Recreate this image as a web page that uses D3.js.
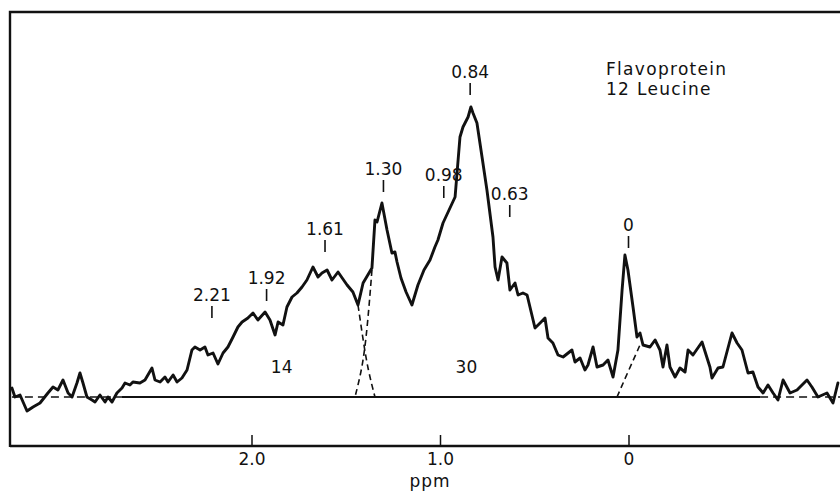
<!DOCTYPE html>
<html>
<head>
<meta charset="utf-8">
<script src="https://cdn.jsdelivr.net/npm/d3@7"></script>
<style>
  html, body { margin: 0; padding: 0; background: #fff; }
  svg { display: block; }
  text { font-family: "DejaVu Sans", sans-serif; fill: #111; }
</style>
</head>
<body>
<svg id="chart" width="840" height="495"></svg>
<script>
// 1H NMR spectrum of a flavoprotein labelled with 12 leucine residues

// chemical shift (ppm) and signal intensity (arbitrary units) of the trace
const spectrumPpm = [
  3.271, 3.255, 3.228, 3.191, 3.159, 3.122, 3.080, 3.053, 3.027, 3.000,
  2.973, 2.952, 2.926, 2.910, 2.894, 2.873, 2.846, 2.830, 2.804, 2.777,
  2.761, 2.740, 2.714, 2.687, 2.671, 2.645, 2.629, 2.592, 2.565, 2.528,
  2.512, 2.485, 2.459, 2.443, 2.416, 2.395, 2.369, 2.342, 2.316, 2.300,
  2.273, 2.247, 2.231, 2.204, 2.178, 2.151, 2.125, 2.098, 2.072, 2.050,
  2.019, 1.992, 1.966, 1.928, 1.902, 1.875, 1.859, 1.833, 1.812, 1.785,
  1.759, 1.732, 1.706, 1.674, 1.647, 1.626, 1.599, 1.573, 1.541, 1.493,
  1.462, 1.435, 1.408, 1.361, 1.345, 1.334, 1.308, 1.281, 1.255, 1.239,
  1.228, 1.207, 1.180, 1.149, 1.117, 1.085, 1.053, 1.027, 1.011, 0.984,
  0.920, 0.894, 0.878, 0.851, 0.836, 0.825, 0.804, 0.777, 0.751, 0.719,
  0.708, 0.692, 0.671, 0.645, 0.629, 0.602, 0.586, 0.560, 0.538, 0.496,
  0.469, 0.443, 0.427, 0.401, 0.374, 0.347, 0.300, 0.284, 0.257, 0.231,
  0.215, 0.188, 0.167, 0.135, 0.109, 0.082, 0.056, 0.034, 0.019, 0.003,
  -0.024, -0.045, -0.061, -0.077, -0.114, -0.141, -0.167, -0.183, -0.204, -0.220,
  -0.247, -0.273, -0.300, -0.316, -0.342, -0.390, -0.432, -0.443, -0.475, -0.501,
  -0.549, -0.576, -0.602, -0.634, -0.660, -0.687, -0.714, -0.740, -0.767, -0.793,
  -0.820, -0.857, -0.894, -0.947, -0.973, -1.005, -1.053, -1.085, -1.111
];
const spectrumIntensity = [
  4.5, 0, 1, -7, -5, -3, 2, 5, 3.5, 8.5,
  2, 0, 7, 12, 7, 0, -1.5, -2.5, 1, -2.5,
  0, -2.5, 2, 4.5, 7, 6, 7.5, 7, 8.5, 14.5,
  8.5, 7.5, 10, 7.5, 11, 7.5, 9.5, 13.5, 23.5, 25,
  23.5, 25, 21, 22, 16.5, 22, 25, 30, 35, 37.5,
  39.5, 42, 38.5, 42.5, 38.5, 31, 37.5, 36, 45, 50,
  52, 55, 58.5, 65, 60, 62, 63.5, 58.5, 62.5, 56,
  52.5, 46, 57, 64.5, 88.5, 87.5, 97, 83.5, 72, 72.5,
  67.5, 59.5, 52.5, 46, 56, 63.5, 68.5, 75, 78.5, 87,
  100, 130, 135, 140, 145, 142, 137, 120, 103.5, 80,
  65, 58.5, 70, 67, 53.5, 57, 51, 52, 51, 34.5,
  37, 39.5, 29.5, 27, 21, 20, 23.5, 17.5, 19.5, 13.5,
  16, 25, 15, 16, 18.5, 10, 23.5, 53.5, 71, 63.5,
  45, 30, 32, 26, 25, 28.5, 23.5, 15, 26, 15,
  10, 14.5, 12.5, 23.5, 21, 27.5, 15, 9.5, 14.5, 15,
  32, 27, 23.5, 12, 12.5, 5, 2, 6, 2, -1.5,
  8.5, 2, 3.5, 8.5, 5, 0, 2, -3, 7
];

// dashed outlines separating the overlapping components
const broadTailPpm = [1.435, 1.408, 1.382, 1.345];
const broadTailIntensity = [46, 28.5, 13.5, 0];
const methylEdgePpm = [1.361, 1.382, 1.408, 1.451];
const methylEdgeIntensity = [63.5, 38.5, 16, 0];
const referenceEdgePpm = [0.061, 0.003, -0.061];
const referenceEdgeIntensity = [0, 12.5, 26];

// baseline: solid over the integrated range, dashed beyond it
const baselineSolid = [2.687, -0.698];
const baselineDashed = [[3.271, 2.687], [-0.698, -1.13]];

// peak assignments (ppm) and the level of each marker's lower end
const peakLabels = ["2.21", "1.92", "1.61", "1.30", "0.98", "0.84", "0.63", "0"];
const peakPpm = [2.21, 1.92, 1.61, 1.30, 0.98, 0.84, 0.63, 0];
const markerLevel = [39.5, 48, 72.5, 102.5, 99.5, 151, 90, 74.5];

// integrated proton counts for the two regions
const areaLabels = ["14", "30"];
const areaPpm = [1.84, 0.86];
const areaLevel = [12, 12];

// axis ticks
const axisTicks = [2.0, 1.0, 0];
const titleLines = ["Flavoprotein", "12 Leucine"];

const svg = d3.select("#chart");
const frame = { left: 10, top: 12, right: 840, bottom: 446 };

const x = d3.scaleLinear().domain([2, 0]).range([251.5, 628.5]);
const y = d3.scaleLinear().domain([0, 145]).range([397, 107]);

const line = d3.line().x(d => x(d[0])).y(d => y(d[1]));
const pairs = (a, b) => a.map((v, i) => [v, b[i]]);

// frame: left and top edges, bottom axis line
svg.append("path")
  .attr("d", `M${frame.left},${frame.bottom + 1}V${frame.top}H${frame.right}`)
  .attr("fill", "none").attr("stroke", "#111").attr("stroke-width", 2.4);

const axis = d3.axisBottom(x)
  .tickValues(axisTicks)
  .tickSizeInner(-11)
  .tickSizeOuter(0)
  .tickPadding(7)
  .tickFormat(d => d === 0 ? "0" : d3.format(".1f")(d));

const gAxis = svg.append("g")
  .attr("transform", `translate(0,${frame.bottom})`)
  .call(axis);
gAxis.select(".domain").remove();
gAxis.selectAll(".tick line").attr("stroke", "#111").attr("stroke-width", 1.5);
gAxis.selectAll(".tick text")
  .attr("fill", "#111")
  .style("font-family", "'DejaVu Sans', sans-serif")
  .style("font-size", "17px");
svg.append("line")
  .attr("x1", frame.left).attr("x2", frame.right)
  .attr("y1", frame.bottom).attr("y2", frame.bottom)
  .attr("stroke", "#111").attr("stroke-width", 2.4);

svg.append("text")
  .attr("x", 430).attr("y", 487)
  .attr("text-anchor", "middle")
  .style("font-size", "17px")
  .style("letter-spacing", "1px")
  .text("ppm");

// baseline
svg.append("path")
  .attr("d", line(baselineSolid.map(p => [p, 0])))
  .attr("fill", "none").attr("stroke", "#111").attr("stroke-width", 2.2);
baselineDashed.forEach(seg => {
  svg.append("path")
    .attr("d", line(seg.map(p => [p, 0])))
    .attr("fill", "none").attr("stroke", "#111").attr("stroke-width", 1.7)
    .attr("stroke-dasharray", "8,5");
});

// component outlines
[[broadTailPpm, broadTailIntensity],
 [methylEdgePpm, methylEdgeIntensity],
 [referenceEdgePpm, referenceEdgeIntensity]].forEach(([p, v]) => {
  svg.append("path")
    .attr("d", d3.line().x(d => x(d[0])).y(d => y(d[1])).curve(d3.curveBasis)(pairs(p, v)))
    .attr("fill", "none").attr("stroke", "#111").attr("stroke-width", 1.6)
    .attr("stroke-dasharray", "6,4");
});

// spectrum trace
svg.append("path")
  .attr("d", line(pairs(spectrumPpm, spectrumIntensity)))
  .attr("fill", "none")
  .attr("stroke", "#111")
  .attr("stroke-width", 2.9)
  .attr("stroke-linejoin", "round")
  .attr("stroke-linecap", "round");

// peak markers and labels
const markerLen = 12;
const peaks = svg.append("g").selectAll("g")
  .data(peakLabels.map((lab, i) => ({ lab, ppm: peakPpm[i], level: markerLevel[i] })))
  .join("g");
peaks.append("line")
  .attr("x1", d => x(d.ppm)).attr("x2", d => x(d.ppm))
  .attr("y1", d => y(d.level)).attr("y2", d => y(d.level) - markerLen)
  .attr("stroke", "#111").attr("stroke-width", 1.6);
peaks.append("text")
  .attr("x", d => x(d.ppm))
  .attr("y", d => y(d.level) - markerLen - 5)
  .attr("text-anchor", "middle")
  .style("font-size", "17px")
  .text(d => d.lab);

// integrals
svg.append("g").selectAll("text")
  .data(areaLabels.map((lab, i) => ({ lab, ppm: areaPpm[i], level: areaLevel[i] })))
  .join("text")
  .attr("x", d => x(d.ppm))
  .attr("y", d => y(d.level))
  .attr("text-anchor", "middle")
  .style("font-size", "17px")
  .text(d => d.lab);

// sample annotation
svg.append("g").selectAll("text")
  .data(titleLines)
  .join("text")
  .attr("x", 606)
  .attr("y", (d, i) => 75 + i * 20)
  .style("font-size", "17px")
  .style("letter-spacing", "1.3px")
  .text(d => d);
</script>
</body>
</html>
